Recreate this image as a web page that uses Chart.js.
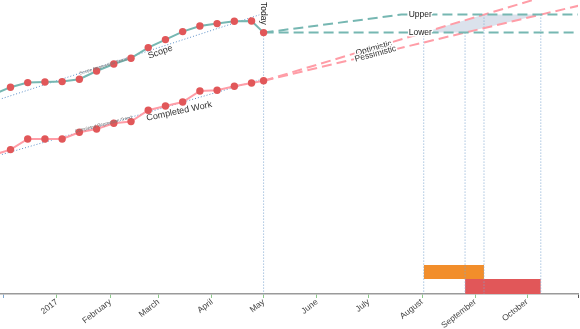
<!DOCTYPE html>
<html>
<head>
<meta charset="utf-8">
<script src="https://cdn.jsdelivr.net/npm/chart.js@4/dist/chart.umd.min.js"></script>
<style>
  html, body { margin: 0; padding: 0; background: #fff; }
  #burnup { display: block; }
</style>
</head>
<body>
<canvas id="burnup" width="580" height="329"></canvas>
<script>
// sample dates (every ten days, last one is today)
var sampleDates = ['2016-11-25', '2016-12-05', '2016-12-15', '2016-12-25', '2017-01-04', '2017-01-14',
    '2017-01-24', '2017-02-03', '2017-02-13', '2017-02-23', '2017-03-05', '2017-03-15',
    '2017-03-25', '2017-04-04', '2017-04-14', '2017-04-24', '2017-05-01'];
var scopeValues = [99.8, 103.4, 105.7, 106.0, 106.2, 107.4, 111.5, 115.0, 117.9, 123.2, 127.2, 131.2,
    134.0, 135.2, 136.4, 136.5, 130.7];
var completedValues = [69.5, 72.2, 77.5, 77.5, 77.5, 80.9, 82.5, 85.4, 86.2, 91.9, 94.0, 96.0,
    101.5, 101.9, 103.9, 105.5, 106.6];

// regression trends
var scopeTrendDates = ['2016-11-25', '2017-04-29'];
var scopeTrendValues = [96.3, 139.7];
var completedTrendDates = ['2016-11-25', '2017-05-01'];
var completedTrendValues = [68.5, 107.6];

// scope forecast band
var today = '2017-05-01';
var upperDates = ['2017-05-01', '2017-07-20', '2017-11-30'];
var upperValues = [130.7, 139.7, 139.7];
var lowerDates = ['2017-05-01', '2017-11-30'];
var lowerValues = [130.7, 130.7];

// completion forecasts: today, meets lower scope, meets upper scope, beyond
var optimisticDates = ['2017-05-01', '2017-08-02', '2017-09-06', '2017-11-30'];
var optimisticValues = [106.6, 130.7, 139.7, 161.5];
var pessimisticDates = ['2017-05-01', '2017-08-26', '2017-10-09', '2017-11-30'];
var pessimisticValues = [106.6, 130.7, 139.7, 150.2];

// axis
var monthTicks = ['2016-12-01', '2017-01-01', '2017-02-01', '2017-03-01', '2017-04-01', '2017-05-01',
    '2017-06-01', '2017-07-01', '2017-08-01', '2017-09-01', '2017-10-01'];
var monthLabels = ['', '2017', 'February', 'March', 'April', 'May', 'June', 'July', 'August', 'September', 'October'];

var X_MIN = -33.1, X_MAX = 302.6;
var FONT = '"Liberation Sans", Arial, sans-serif';

// days since 1 Jan 2017
function dayOf(s) {
    var p = s.split('-');
    return (Date.UTC(+p[0], +p[1] - 1, +p[2]) - Date.UTC(2017, 0, 1)) / 864e5;
}

function pts(dates, values) {
    return dates.map(function (d, i) { return { x: dayOf(d), y: values[i] }; });
}

function vline(date, top) {
    return {
        data: [{ x: dayOf(date), y: top }, { x: dayOf(date), y: 0 }],
        borderColor: '#7ea6cf', borderWidth: 1, borderDash: [1, 2],
        pointRadius: 0, fill: false, order: 4
    };
}

var lowerScope = lowerValues[0];
var upperScope = upperValues[upperValues.length - 1];

var datasets = [
    // band between the two forecasts, inside the scope range
    {
        data: [{ x: dayOf(optimisticDates[1]), y: lowerScope }, { x: dayOf(optimisticDates[2]), y: upperScope },
            { x: dayOf(pessimisticDates[2]), y: upperScope }],
        borderWidth: 0, pointRadius: 0, backgroundColor: '#dbe2ec', fill: '+1', order: 7
    },
    {
        data: [{ x: dayOf(optimisticDates[1]), y: lowerScope }, { x: dayOf(pessimisticDates[1]), y: lowerScope },
            { x: dayOf(pessimisticDates[2]), y: upperScope }],
        borderWidth: 0, pointRadius: 0, fill: false, order: 7
    },
    // forecast ranges as bars along the axis
    {
        data: [{ x: dayOf(optimisticDates[1]), y: 14.5 }, { x: dayOf(optimisticDates[2]), y: 14.5 }],
        borderWidth: 0, pointRadius: 0, backgroundColor: '#f28e2b', fill: { value: 7.5 }, order: 6
    },
    {
        data: [{ x: dayOf(pessimisticDates[1]), y: 7.5 }, { x: dayOf(pessimisticDates[2]), y: 7.5 }],
        borderWidth: 0, pointRadius: 0, backgroundColor: '#e15759', fill: { value: 0 }, order: 6
    },
    vline(today, scopeValues[scopeValues.length - 1]),
    vline(optimisticDates[1], lowerScope),
    vline(optimisticDates[2], upperScope),
    vline(pessimisticDates[1], lowerScope),
    vline(pessimisticDates[2], upperScope),
    // trends
    {
        data: pts(scopeTrendDates, scopeTrendValues),
        borderColor: '#5b8fc7', borderWidth: 1, borderDash: [1, 2], pointRadius: 0, fill: false, order: 3
    },
    {
        data: pts(completedTrendDates, completedTrendValues),
        borderColor: '#5b8fc7', borderWidth: 1, borderDash: [1, 2], pointRadius: 0, fill: false, order: 3
    },
    // projections
    {
        data: pts(upperDates, upperValues),
        borderColor: '#76b7b2', borderWidth: 2, borderDash: [10, 5], pointRadius: 0, fill: false, order: 2
    },
    {
        data: pts(lowerDates, lowerValues),
        borderColor: '#76b7b2', borderWidth: 2, borderDash: [10, 5], pointRadius: 0, fill: false, order: 2
    },
    {
        data: pts(optimisticDates, optimisticValues),
        borderColor: '#ff9da7', borderWidth: 2, borderDash: [10, 5], pointRadius: 0, fill: false, order: 2
    },
    {
        data: pts(pessimisticDates, pessimisticValues),
        borderColor: '#ff9da7', borderWidth: 2, borderDash: [10, 5], pointRadius: 0, fill: false, order: 2
    },
    // actuals
    {
        data: pts(sampleDates, scopeValues),
        borderColor: '#76b7b2', borderWidth: 2, pointRadius: 3.7, pointBorderWidth: 0,
        pointBackgroundColor: '#e15759', fill: false, order: 1
    },
    {
        data: pts(sampleDates, completedValues),
        borderColor: '#ff9da7', borderWidth: 2, pointRadius: 3.7, pointBorderWidth: 0,
        pointBackgroundColor: '#e15759', fill: false, order: 1
    }
];

// text labels placed in data coordinates
var notes = [
    { text: 'Scope Regression Trend', date: '2017-01-28', value: 113.9, angle: -17, size: 4.5, color: '#777' },
    { text: 'Completed Regression Trend', date: '2017-01-28', value: 84.8, angle: -14, size: 4.5, color: '#777' },
    { text: 'Scope', date: '2017-03-02', value: 121, angle: -20, size: 9, color: '#333' },
    { text: 'Completed Work', date: '2017-03-13', value: 91.3, angle: -12, size: 9, color: '#333' },
    { text: 'Optimistic', date: '2017-07-04', value: 122.8, angle: -16, size: 8.5, color: '#333', halo: true },
    { text: 'Pessimistic', date: '2017-07-05', value: 120.0, angle: -15, size: 8.5, color: '#333', halo: true },
    { text: 'Upper', date: '2017-07-31', value: 139.6, angle: 0, size: 8.5, color: '#222', halo: true },
    { text: 'Lower', date: '2017-07-31', value: 130.6, angle: 0, size: 8.5, color: '#222', halo: true },
    { text: 'Today', date: '2017-05-01', value: 140.3, angle: 90, size: 8.5, color: '#222', halo: true }
];

var notesPlugin = {
    id: 'notes',
    afterDatasetsDraw: function (chart) {
        var ctx = chart.ctx;
        var xs = chart.scales.x, ys = chart.scales.y;
        notes.forEach(function (n) {
            var px = xs.getPixelForValue(dayOf(n.date));
            var py = ys.getPixelForValue(n.value);
            ctx.save();
            ctx.translate(px, py);
            ctx.rotate(n.angle * Math.PI / 180);
            ctx.font = n.size + 'px ' + FONT;
            ctx.textAlign = 'center';
            ctx.textBaseline = 'middle';
            if (n.halo) {
                ctx.strokeStyle = '#fff';
                ctx.lineWidth = 3;
                ctx.lineJoin = 'round';
                ctx.strokeText(n.text, 0, 0);
            }
            ctx.fillStyle = n.color;
            ctx.fillText(n.text, 0, 0);
            ctx.restore();
        });
    }
};

var tickValues = monthTicks.map(dayOf).concat([X_MAX]);

new Chart(document.getElementById('burnup'), {
    type: 'line',
    data: { datasets: datasets },
    options: {
        responsive: false,
        animation: false,
        devicePixelRatio: 1,
        layout: { autoPadding: false, padding: { left: 0, right: 2, top: 0, bottom: 0 } },
        plugins: { legend: { display: false }, tooltip: { enabled: false } },
        scales: {
            x: {
                type: 'linear',
                min: X_MIN,
                max: X_MAX,
                afterBuildTicks: function (scale) {
                    scale.ticks = tickValues.map(function (v) { return { value: v }; });
                },
                afterFit: function (scale) {
                    scale.paddingLeft = 0;
                    scale.paddingRight = 0;
                    scale.height = 35;
                },
                grid: {
                    drawOnChartArea: false,
                    drawTicks: true,
                    tickLength: 4,
                    lineWidth: 1,
                    color: function (c) {
                        if (c.index === tickValues.length - 1) return '#555';
                        if (c.index === 0) return '#7ea6cf';
                        return '#8cc98b';
                    }
                },
                border: { display: true, color: '#9a9a9a', width: 1.5 },
                ticks: {
                    autoSkip: false,
                    maxRotation: 38,
                    minRotation: 38,
                    padding: -1,
                    color: '#444',
                    font: { family: FONT, size: 8.5 },
                    callback: function (v, i) { return monthLabels[i] || ''; }
                }
            },
            y: { display: false, min: 0, max: 147 }
        }
    },
    plugins: [notesPlugin]
});
</script>
</body>
</html>
